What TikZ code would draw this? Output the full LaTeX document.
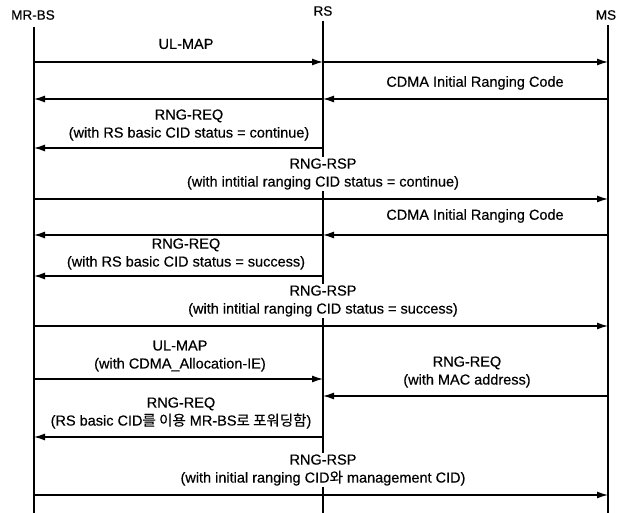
\documentclass[tikz,border=0pt]{standalone}
\usepackage{fontspec}
\setmainfont{Liberation Sans}[FakeBold=0.4]
\newfontfamily\kofont{Noto Sans CJK KR}[FakeBold=0.2]
\usetikzlibrary{arrows.meta}
\newcommand{\ko}[1]{{\kofont #1}}
\begin{document}
\begin{tikzpicture}[x=1pt,y=-1pt,
  lifeline/.style={line width=1.3pt},
  msg/.style={line width=1.3pt,-{Latex[length=11pt,width=7pt]}},
  head/.style={font=\fontsize{13.5}{15}\selectfont,inner sep=0pt},
  lbl/.style={font=\fontsize{14.5}{18}\selectfont,align=center,fill=white,inner sep=1pt}]
\useasboundingbox[fill=white] (0,0) rectangle (625,513);
% headers
\node[head] (hbs) at (33,15) {MR-BS};
\node[head] (hrs) at (323,11) {RS};
\node[head] (hms) at (606,15) {MS};
% lifeline tops and bottoms
\coordinate (bs) at (34,27);
\coordinate (rs) at (323,21);
\coordinate (ms) at (608,25);
\coordinate (bsE) at (34,513);
\coordinate (rsE) at (323,513);
\coordinate (msE) at (608,513);
\draw[lifeline] (bs) -- (bsE);
\draw[lifeline] (rs) -- (rsE);
\draw[lifeline] (ms) -- (msE);
% 1 UL-MAP
\draw[msg] (bs |- 0,62) -- (rs |- 0,62);
\draw[msg] (rs |- 0,62) -- (ms |- 0,62);
\node[lbl] (l1) at (186,44) {UL-MAP};
% 2 CDMA
\draw[msg] (ms |- 0,99) -- (rs |- 0,99);
\draw[msg] (rs |- 0,99) -- (bs |- 0,99);
\node[lbl] (l2) at (475,83) {CDMA Initial Ranging Code};
% 3 RNG-REQ continue
\draw[msg] (rs |- 0,148) -- (bs |- 0,148);
\node[lbl] (l3) at (189,125) {RNG-REQ\\(with RS basic CID status = continue)};
% 4 RNG-RSP continue
\draw[msg] (bs |- 0,199) -- (ms |- 0,199);
\node[lbl] (l4) at (323,174) {RNG-RSP\\(with intitial ranging CID status = continue)};
% 5 CDMA
\draw[msg] (ms |- 0,235) -- (rs |- 0,235);
\draw[msg] (rs |- 0,235) -- (bs |- 0,235);
\node[lbl] (l5) at (475,216) {CDMA Initial Ranging Code};
% 6 RNG-REQ success
\draw[msg] (rs |- 0,276) -- (bs |- 0,276);
\node[lbl] (l6) at (186,254) {RNG-REQ\\(with RS basic CID status = success)};
% 7 RNG-RSP success
\draw[msg] (bs |- 0,326) -- (ms |- 0,326);
\node[lbl] (l7) at (323,301) {RNG-RSP\\(with intitial ranging CID status = success)};
% 8 UL-MAP alloc
\draw[msg] (bs |- 0,379) -- (rs |- 0,379);
\node[lbl] (l8) at (180,356) {UL-MAP\\(with CDMA\_Allocation-IE)};
% 9 RNG-REQ MAC
\draw[msg] (ms |- 0,396) -- (rs |- 0,396);
\node[lbl] (l9) at (467,372) {RNG-REQ\\(with MAC address)};
% 10 RNG-REQ forwarded
\draw[msg] (rs |- 0,437) -- (bs |- 0,437);
\node[lbl] (l10) at (181,413) {RNG-REQ\\(RS basic CID\ko{를 이용} MR-BS\ko{로 포워딩함})};
% 11 RNG-RSP final
\draw[msg] (bs |- 0,495) -- (ms |- 0,495);
\node[lbl] (l11) at (323,470) {RNG-RSP\\(with initial ranging CID\ko{와} management CID)};
\end{tikzpicture}
\end{document}
